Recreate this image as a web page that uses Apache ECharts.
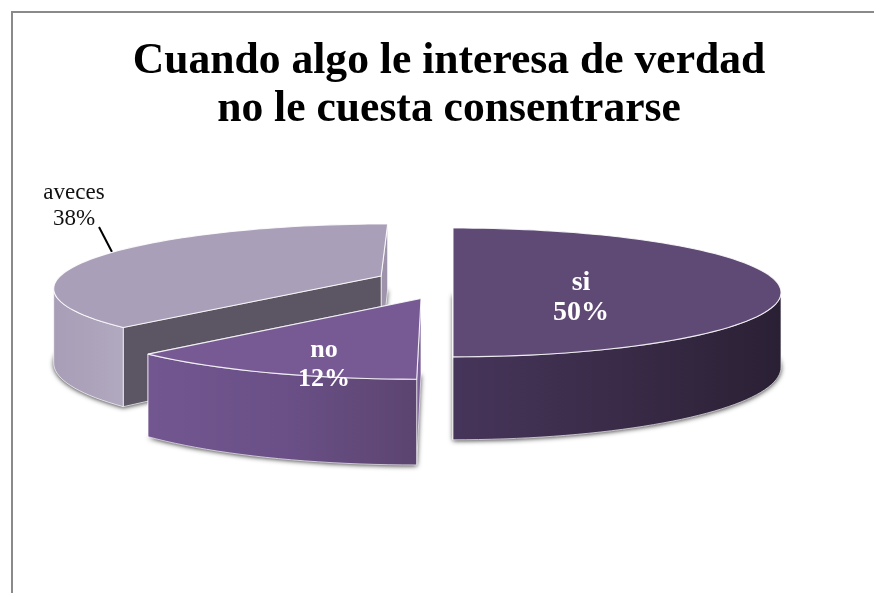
<!DOCTYPE html>
<html>
<head>
<meta charset="utf-8">
<style>html,body{margin:0;padding:0;background:#fff}#chart{width:874px;height:593px}</style>
<script src="https://cdn.jsdelivr.net/npm/echarts@6/dist/echarts.min.js"></script>
</head>
<body>
<div id="chart"></div>
<script>
// Survey answers
const titleLines = ['Cuando algo le interesa de verdad', 'no le cuesta consentrarse'];
const categories = ['si', 'no', 'aveces'];
const percents = [50, 12, 38];

const SERIF = '"Liberation Serif","Times New Roman",serif';

// Perspective camera for the tilted disc
const cam = { cx: 453, vy: -300, A: 3000, H: 5386, h: 680, D0: 9.2 };
function project(X, Y, level) {
  const D = cam.D0 - Y;
  return [cam.cx + cam.A * X / D, cam.vy + (cam.H + level * cam.h) / D];
}

// Per-slice look: explosion offset on the ground plane, front bulge, width, paint order, colours
const looks = [
  { ox: 0, oy: 0, bulge: 0, widen: 1, order: 2, top: '#5f4a76', cut: '#3e2f50',
    wall: ['#46355a', '#3a2b48', '#2a2034'], label: { x: 581, y: 298, size: 28, gap: 30, color: '#fff', weight: 'bold' } },
  { ox: -0.096, oy: 0.2, bulge: 0.07, widen: 1.03, order: 3, top: '#775a94', cut: '#7a5f98',
    wall: ['#725690', '#6a5087', '#5c4470'], label: { x: 324, y: 365, size: 26, gap: 29, color: '#fff', weight: 'bold' } },
  { ox: -0.224, oy: -0.15, bulge: 0.07, widen: 1, order: 1, top: '#aa9fb8', cut: '#5c5563', endCut: '#9d93ab',
    wall: ['#a89eb7', '#aca3bb', '#b1a9c0'], label: { x: 74, y: 206, size: 23, gap: 26, color: '#111', weight: 'normal' } }
];

// Cumulative angles, clockwise from the back of the disc
const total = percents.reduce((a, b) => a + b, 0);
const starts = [];
percents.reduce((acc, p, i) => { starts[i] = acc; return acc + p; }, 0);

function rimPoint(look, deg, level) {
  const t = deg * Math.PI / 180;
  const r = 1 - look.bulge * Math.cos(t);
  return project(look.ox + look.widen * r * Math.sin(t), look.oy - r * Math.cos(t), level);
}
function arc(look, a0, a1, level) {
  const pts = [];
  const n = Math.max(8, Math.ceil(Math.abs(a1 - a0) / 2));
  for (let i = 0; i <= n; i++) pts.push(rimPoint(look, a0 + (a1 - a0) * i / n, level));
  return pts;
}
// Part of the rim that faces the camera: between the disc's left and right silhouette points
function frontRange(look, a0, a1) {
  let right = 0, left = 360, maxX = -Infinity, minX = Infinity;
  for (let d = 0; d <= 360; d += 0.5) {
    const x = rimPoint(look, d, 0)[0];
    if (x > maxX) { maxX = x; right = d; }
    if (x < minX) { minX = x; left = d; }
  }
  return [Math.max(a0, right), Math.min(a1, left)];
}

const EDGE = 'rgba(255,255,255,0.85)';

function renderSlice(params, api) {
  const i = api.value(0);
  const value = api.value(1);
  const look = looks[i];
  const a0 = starts[i] / total * 360;
  const a1 = a0 + value / total * 360;
  const apexTop = project(look.ox, look.oy, 0);
  const apexBot = project(look.ox, look.oy, 1);
  const base = look.order * 10;
  const children = [];
  const poly = (points, style, z) => children.push({
    type: 'polygon', shape: { points }, style, z2: base + z, silent: true
  });

  // Radial cut faces, and the hull they form with the rim carries the soft drop shadow
  const startTop = rimPoint(look, a0, 0), startBot = rimPoint(look, a0, 1);
  const endTop = rimPoint(look, a1, 0), endBot = rimPoint(look, a1, 1);
  poly([apexBot].concat(arc(look, a0, a1, 1)), {
    fill: look.wall[2], shadowBlur: 5, shadowColor: 'rgba(0,0,0,0.8)', shadowOffsetX: 0, shadowOffsetY: 1
  }, 0);
  poly([apexTop, endTop, endBot, apexBot], { fill: look.endCut || look.cut, stroke: EDGE, lineWidth: 0.8 }, 1);
  poly([apexTop, startTop, startBot, apexBot], { fill: look.cut, stroke: EDGE, lineWidth: 0.8 }, 2);

  // Outer rim, only where it faces the camera
  const [f0, f1] = frontRange(look, a0, a1);
  if (f1 > f0) {
    const upper = arc(look, f0, f1, 0);
    const lower = arc(look, f0, f1, 1).reverse();
    const xs = upper.concat(lower).map(p => p[0]);
    poly(upper.concat(lower), {
      fill: {
        type: 'linear', global: true,
        x: Math.min.apply(null, xs), y: 0, x2: Math.max.apply(null, xs), y2: 0,
        colorStops: [
          { offset: 0, color: look.wall[0] },
          { offset: 0.5, color: look.wall[1] },
          { offset: 1, color: look.wall[2] }
        ]
      },
      stroke: EDGE, lineWidth: 0.8
    }, 3);
  }

  // Top face
  poly([apexTop].concat(arc(look, a0, a1, 0)), { fill: look.top, stroke: EDGE, lineWidth: 1.1, lineJoin: 'round' }, 4);

  // Value label
  children.push({
    type: 'text', z2: 90, silent: true,
    style: {
      x: look.label.x, y: look.label.y,
      text: categories[i] + '\n' + value + '%',
      fill: look.label.color,
      font: look.label.weight + ' ' + look.label.size + 'px ' + SERIF,
      lineHeight: look.label.gap,
      align: 'center', verticalAlign: 'middle'
    }
  });
  return { type: 'group', children };
}

const chart = echarts.init(document.getElementById('chart'), null, { renderer: 'canvas' });
chart.setOption({
  animation: false,
  backgroundColor: '#fff',
  title: {
    text: titleLines.join('\n'),
    left: 444, top: 33, textAlign: 'center',
    textStyle: { fontFamily: SERIF, fontWeight: 'bold', fontSize: 43.6, lineHeight: 48, color: '#000' }
  },
  graphic: [
    { type: 'line', shape: { x1: 11, y1: 12, x2: 874, y2: 12 }, style: { stroke: '#8a8a8a', lineWidth: 2 } },
    { type: 'line', shape: { x1: 12, y1: 12, x2: 12, y2: 593 }, style: { stroke: '#8a8a8a', lineWidth: 2 } },
    // Leader from the outside label to its slice
    { type: 'line', shape: { x1: 99, y1: 227, x2: 112, y2: 252 }, style: { stroke: '#000', lineWidth: 2 } }
  ],
  series: [{
    type: 'custom',
    coordinateSystem: 'none',
    renderItem: renderSlice,
    data: categories.map((c, i) => [i, percents[i]])
  }]
});
</script>
</body>
</html>
